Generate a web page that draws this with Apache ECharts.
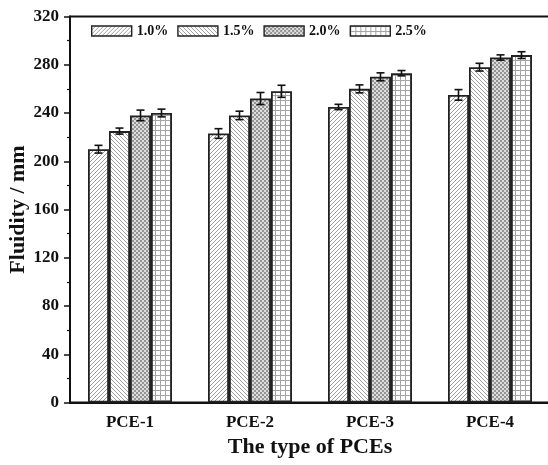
<!DOCTYPE html>
<html>
<head>
<meta charset="utf-8">
<script src="https://cdn.jsdelivr.net/npm/echarts@6/dist/echarts.min.js"></script>
<style>html,body{margin:0;padding:0;background:#fff;}#c{width:548px;height:465px;}</style>
</head>
<body>
<div id="c"></div>
<script>
var categories = ['PCE-1', 'PCE-2', 'PCE-3', 'PCE-4'];
var seriesNames = ['1.0%', '1.5%', '2.0%', '2.5%'];
var values10 = [210, 223, 245, 255];
var values15 = [225, 238, 260, 278];
var values20 = [238, 252, 270, 286];
var values25 = [240, 258, 273, 288];
var err10 = [3.2, 4, 2.2, 4.4];
var err15 = [2.5, 3.5, 3.3, 3.2];
var err20 = [4.4, 5, 3.3, 2.2];
var err25 = [3.2, 5, 2.2, 2.8];
var yTicks = [0, 40, 80, 120, 160, 200, 240, 280, 320];

var allValues = [values10, values15, values20, values25];
var allErrs = [err10, err15, err20, err25];

function makePattern(kind) {
  var c = document.createElement('canvas');
  var s = kind === 'grid' ? 5 : 4;
  c.width = s; c.height = s;
  var g = c.getContext('2d');
  g.fillStyle = '#ffffff';
  g.fillRect(0, 0, s, s);
  g.lineWidth = 0.9;
  if (kind === 'fwd') {
    g.strokeStyle = '#939393';
    g.beginPath();
    g.moveTo(-1, s + 1); g.lineTo(s + 1, -1);
    g.moveTo(-1, 1); g.lineTo(1, -1);
    g.moveTo(s - 1, s + 1); g.lineTo(s + 1, s - 1);
    g.stroke();
  } else if (kind === 'back') {
    g.strokeStyle = '#939393';
    g.beginPath();
    g.moveTo(-1, -1); g.lineTo(s + 1, s + 1);
    g.moveTo(s - 1, -1); g.lineTo(s + 1, 1);
    g.moveTo(-1, s - 1); g.lineTo(1, s + 1);
    g.stroke();
  } else if (kind === 'cross') {
    g.fillStyle = '#dcdcdc';
    g.fillRect(0, 0, s, s);
    g.fillStyle = '#959595';
    g.fillRect(0, 0, 2, 2);
    g.fillRect(2, 2, 2, 2);
  } else {
    g.fillStyle = '#a5a5a5';
    g.fillRect(0, 0, s, 1);
    g.fillRect(0, 0, 1, s);
  }
  return { image: c, repeat: 'repeat' };
}
var patterns = [makePattern('fwd'), makePattern('back'), makePattern('cross'), makePattern('grid')];

var BAR_W = 21;
var offsets = [-1.5, -0.5, 0.5, 1.5];
var FONT = 'Liberation Serif';

var series = [];
for (var i = 0; i < 4; i++) {
  series.push({
    name: seriesNames[i],
    type: 'bar',
    data: allValues[i],
    barWidth: BAR_W,
    barGap: '0%',
    itemStyle: { color: patterns[i], borderColor: '#222', borderWidth: 1.8 }
  });
}
for (var j = 0; j < 4; j++) {
  (function (k) {
    var data = allValues[k].map(function (v, idx) { return [idx, v, allErrs[k][idx]]; });
    series.push({
      type: 'custom',
      z: 10,
      silent: true,
      data: data,
      renderItem: function (params, api) {
        var idx = api.value(0), v = api.value(1), e = api.value(2);
        var hi = api.coord([idx, v + e]);
        var lo = api.coord([idx, v - e]);
        var x = hi[0] + offsets[k] * BAR_W;
        var cap = 4;
        var st = { stroke: '#111', lineWidth: 1.6 };
        return { type: 'group', children: [
          { type: 'line', shape: { x1: x, y1: hi[1], x2: x, y2: lo[1] }, style: st },
          { type: 'line', shape: { x1: x - cap, y1: hi[1], x2: x + cap, y2: hi[1] }, style: st },
          { type: 'line', shape: { x1: x - cap, y1: lo[1], x2: x + cap, y2: lo[1] }, style: st }
        ] };
      }
    });
  })(j);
}

var chart = echarts.init(document.getElementById('c'), null, { renderer: 'canvas' });
chart.setOption({
  animation: false,
  backgroundColor: '#fff',
  legend: {
    data: seriesNames,
    icon: 'rect',
    left: 86, top: 19,
    itemWidth: 40, itemHeight: 10, itemGap: 9,
    textStyle: { fontFamily: FONT, fontWeight: 'bold', fontSize: 14, color: '#111' },
    itemStyle: { borderColor: '#222', borderWidth: 1.4 }
  },
  grid: { left: 70, width: 480, top: 16.5, bottom: 62.5, containLabel: false, outerBoundsMode: 'none', show: true, borderColor: '#111', borderWidth: 2, backgroundColor: 'transparent' },
  xAxis: {
    type: 'category',
    data: categories,
    name: 'The type of PCEs',
    nameLocation: 'middle',
    nameGap: 29,
    nameTextStyle: { fontFamily: FONT, fontWeight: 'bold', fontSize: 22, color: '#111' },
    axisLine: { lineStyle: { color: '#111', width: 2 } },
    axisTick: { alignWithLabel: true, length: 6, lineStyle: { color: '#111', width: 1.5 } },
    axisLabel: { fontFamily: FONT, fontWeight: 'bold', fontSize: 17, color: '#111', margin: 12 }
  },
  yAxis: {
    type: 'value',
    min: yTicks[0], max: yTicks[yTicks.length - 1], interval: 40,
    name: 'Fluidity / mm',
    nameLocation: 'middle',
    nameGap: 41,
    nameMoveOverlap: false,
    nameTextStyle: { fontFamily: FONT, fontWeight: 'bold', fontSize: 22, color: '#111' },
    axisLine: { show: true, lineStyle: { color: '#111', width: 2 } },
    axisTick: { show: true, length: 6, lineStyle: { color: '#111', width: 1.5 } },
    minorTick: { show: true, splitNumber: 2, length: 3, lineStyle: { color: '#111', width: 1.2 } },
    splitLine: { show: false },
    axisLabel: { fontFamily: FONT, fontWeight: 'bold', fontSize: 17, color: '#111', margin: 11 }
  },
  series: series
});
</script>
</body>
</html>
